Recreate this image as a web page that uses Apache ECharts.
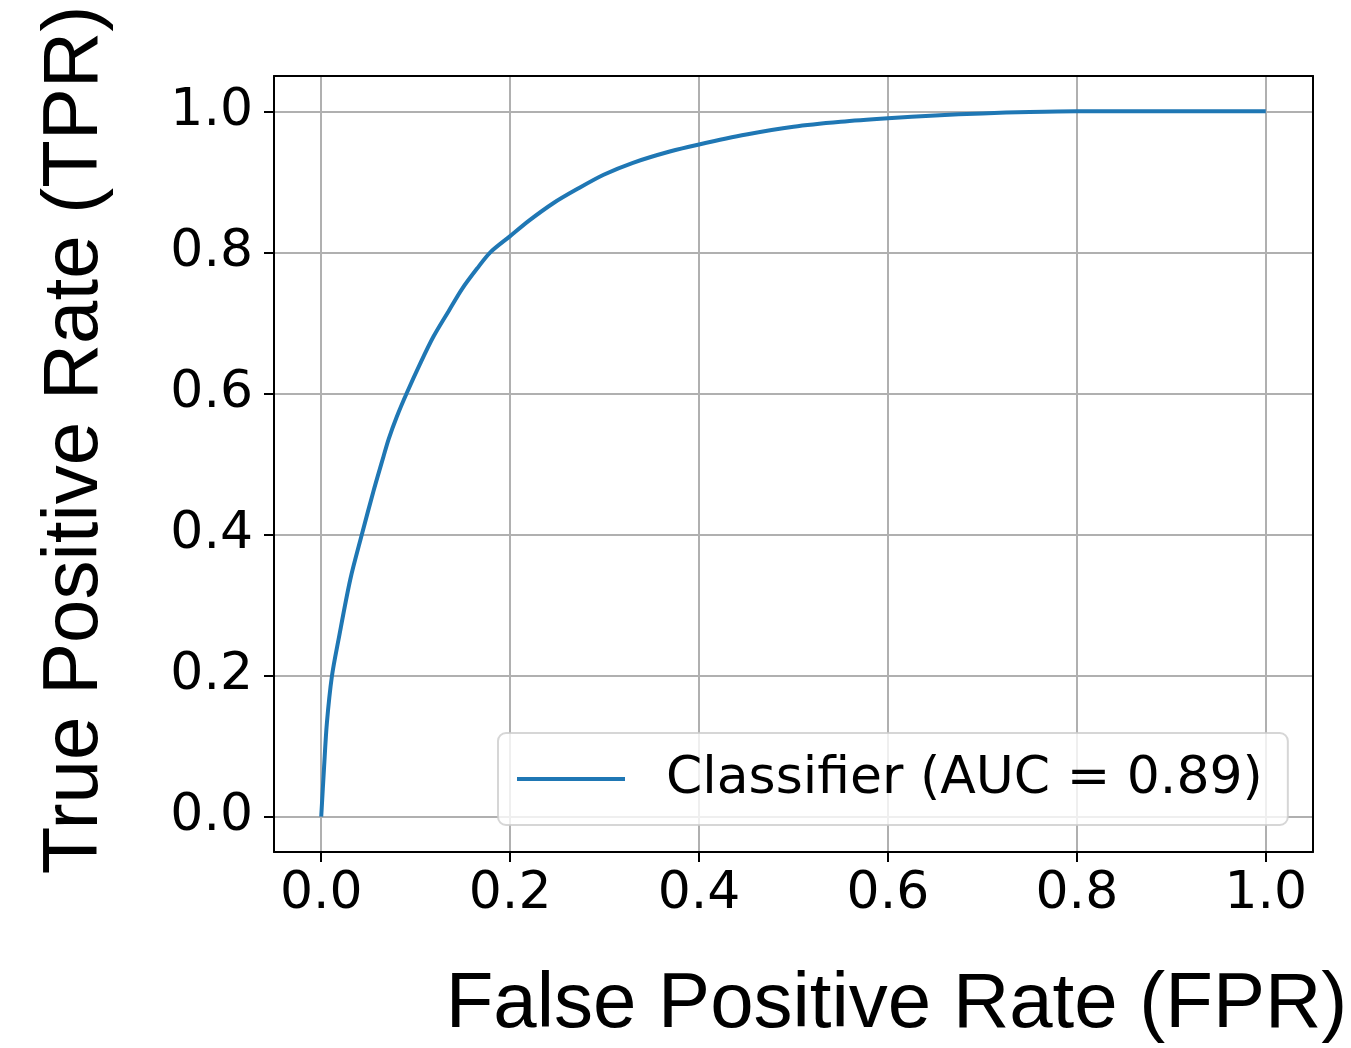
<!DOCTYPE html>
<html>
<head>
<meta charset="utf-8">
<script src="https://cdn.jsdelivr.net/npm/echarts@6/dist/echarts.min.js"></script>
<style>
html,body{margin:0;padding:0;background:#fff;}
#chart{width:1351px;height:1048px;}
</style>
</head>
<body>
<div id="chart"></div>
<script>
const fpr = [0, 0.003, 0.006, 0.0113, 0.0183, 0.0307, 0.043, 0.055, 0.066, 0.0713, 0.08, 0.0907, 0.105, 0.119, 0.135, 0.149, 0.165, 0.179, 0.2, 0.22, 0.246, 0.27, 0.299, 0.33, 0.369, 0.4, 0.45, 0.5, 0.55, 0.6, 0.65, 0.7, 0.75, 0.8, 0.9, 1.0];
const tpr = [0, 0.07, 0.133, 0.199, 0.251, 0.336, 0.40, 0.46, 0.511, 0.535, 0.567, 0.601, 0.643, 0.681, 0.717, 0.748, 0.777, 0.80, 0.823, 0.845, 0.870, 0.889, 0.910, 0.927, 0.943, 0.953, 0.967, 0.978, 0.985, 0.990, 0.994, 0.997, 0.999, 1.0, 1.0, 1.0];
const tickValues = [0, 0.2, 0.4, 0.6, 0.8, 1.0];
const seriesName = 'Classifier (AUC = 0.89)';
const xTitle = 'False Positive Rate (FPR)';
const yTitle = 'True Positive Rate (TPR)';

const chart = echarts.init(document.getElementById('chart'), null, {renderer: 'canvas'});
const tickFont = {fontFamily: 'DejaVu Sans', fontSize: 52, color: '#000'};
const titleFont = 'Liberation Sans';

function mainAxis(pos, name, extra) {
  return Object.assign({
    type: 'value', position: pos, min: -0.05, max: 1.05,
    name: name,
    nameLocation: 'middle',
    axisLine: {show: true, onZero: false, lineStyle: {color: '#000', width: 2}},
    axisTick: {show: true, inside: false, length: 10, lineStyle: {color: '#000', width: 2}, customValues: tickValues},
    splitLine: {show: true, lineStyle: {color: '#b0b0b0', width: 2}},
  }, extra);
}
function frameAxis(pos) {
  return {
    type: 'value', position: pos, min: -0.05, max: 1.05,
    axisLine: {show: true, onZero: false, lineStyle: {color: '#000', width: 2}},
    axisTick: {show: false}, axisLabel: {show: false}, splitLine: {show: false}
  };
}

chart.setOption({
  animation: false,
  backgroundColor: '#fff',
  grid: {left: 274, top: 76, right: 38, bottom: 196, containLabel: false, outerBoundsMode: 'none'},
  xAxis: [
    mainAxis('bottom', xTitle, {
      nameGap: 114,
      axisLabel: Object.assign({show: true, customValues: tickValues, formatter: v => v.toFixed(1), margin: 16}, tickFont),
      nameTextStyle: {fontFamily: titleFont, fontSize: 78, color: '#000', padding: [0, 0, 0, 206]}
    }),
    frameAxis('top')
  ],
  yAxis: [
    mainAxis('left', yTitle, {
      nameGap: 160,
      axisLabel: Object.assign({show: true, customValues: tickValues, formatter: v => v.toFixed(1), margin: 21}, tickFont),
      nameTextStyle: {fontFamily: titleFont, fontSize: 78, color: '#000', padding: [0, 0, 0, 48]}
    }),
    frameAxis('right')
  ],
  legend: {
    show: true,
    left: 498, top: 733,
    orient: 'horizontal',
    padding: [20, 25, 20, 19],
    itemWidth: 108, itemHeight: 4,
    backgroundColor: 'rgba(255,255,255,0.8)',
    borderColor: 'rgba(204,204,204,0.8)',
    borderWidth: 2,
    borderRadius: 8,
    textStyle: {fontFamily: 'DejaVu Sans', fontSize: 52, color: '#000', padding: [0, 0, 0, 36]},
    data: [{name: seriesName, icon: 'rect'}]
  },
  series: [{
    name: seriesName,
    type: 'line',
    data: fpr.map((x, i) => [x, tpr[i]]),
    showSymbol: false,
    symbol: 'none',
    smooth: 0.3,
    lineStyle: {color: '#1f77b4', width: 4},
    itemStyle: {color: '#1f77b4'},
    z: 3
  }]
});
</script>
</body>
</html>
